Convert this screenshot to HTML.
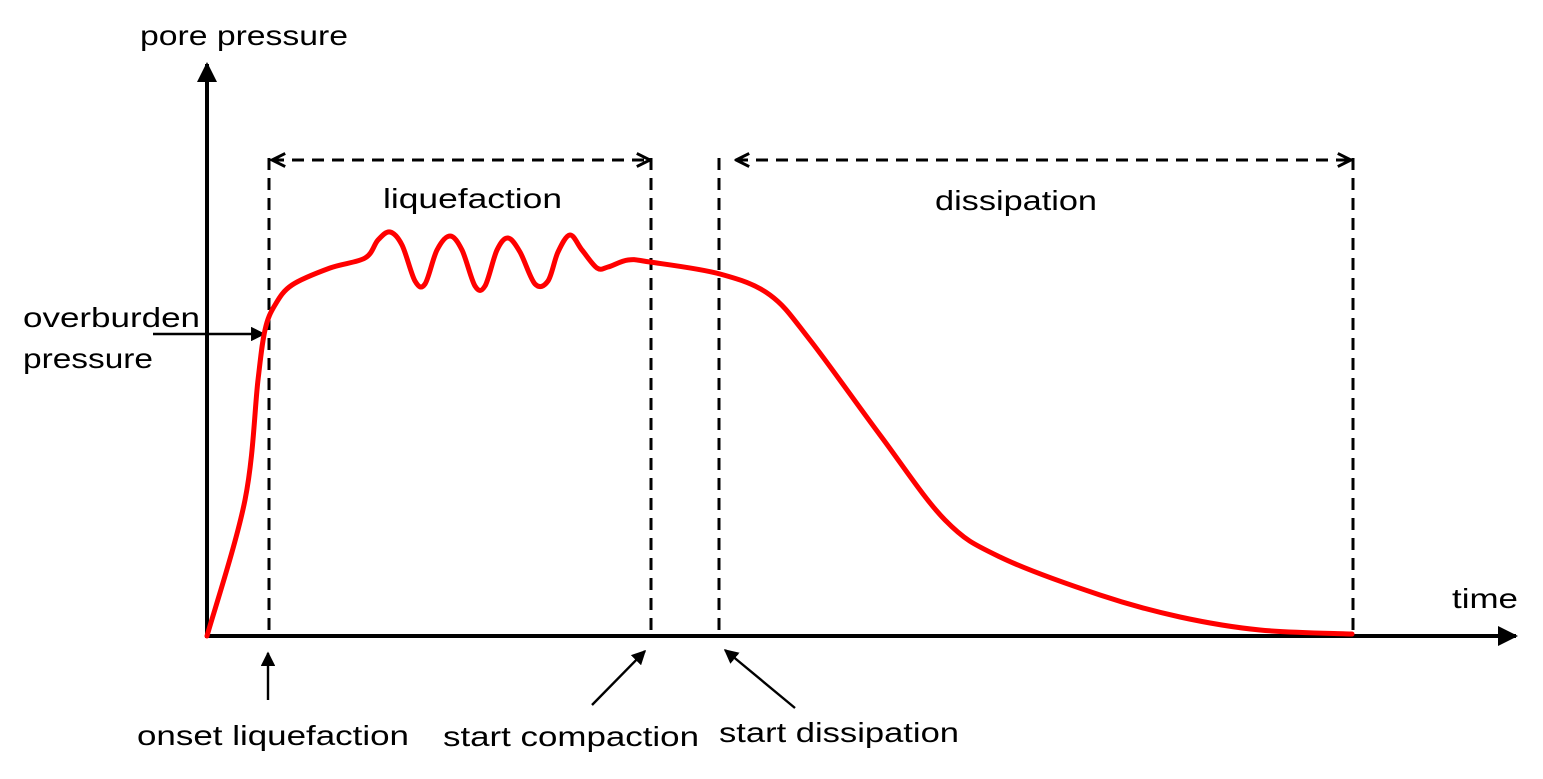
<!DOCTYPE html>
<html><head><meta charset="utf-8"><style>
body{margin:0;background:#fff}
svg{display:block;font-family:"Liberation Sans",sans-serif}
</style></head><body>
<svg width="1543" height="779" viewBox="0 0 1543 779" id="chart">
<defs>
<marker id="ah" viewBox="0 0 10 10" refX="9" refY="5" markerWidth="6" markerHeight="6" orient="auto-start-reverse" markerUnits="strokeWidth"><path d="M0,0 L10,5 L0,10 z" fill="#000"/></marker>
<marker id="ax" viewBox="0 0 10 10" refX="9" refY="5" markerWidth="5" markerHeight="5" orient="auto-start-reverse" markerUnits="strokeWidth"><path d="M0,0 L10,5 L0,10 z" fill="#000"/></marker>
<marker id="oh" viewBox="0 0 10 10" refX="9" refY="5" markerWidth="5.5" markerHeight="5.5" orient="auto-start-reverse" markerUnits="strokeWidth"><path d="M1,1 L9,5 L1,9" fill="none" stroke="#000" stroke-width="1.8"/></marker>
</defs>
<g>
<line x1="207" y1="638" x2="207" y2="64" stroke="#000" stroke-width="4" marker-end="url(#ax)"/>
<line x1="205" y1="636" x2="1516" y2="636" stroke="#000" stroke-width="4" marker-end="url(#ax)"/>
</g>
<g stroke="#000" stroke-width="3" stroke-dasharray="12,8" fill="none">
<line x1="269" y1="158" x2="269" y2="636"/>
<line x1="651" y1="158" x2="651" y2="636"/>
<line x1="719" y1="158" x2="719" y2="636"/>
<line x1="1353" y1="158" x2="1353" y2="636"/>
<line x1="272" y1="160" x2="650" y2="160" marker-start="url(#oh)" marker-end="url(#oh)"/>
<line x1="736" y1="160" x2="1351" y2="160" marker-start="url(#oh)" marker-end="url(#oh)"/>
</g>
<g stroke="#000" stroke-width="2.4">
<line x1="153" y1="334" x2="264" y2="334" marker-end="url(#ah)"/>
<line x1="268" y1="700" x2="268" y2="653" marker-end="url(#ah)"/>
<line x1="592" y1="705" x2="645" y2="651" marker-end="url(#ah)"/>
<line x1="795" y1="708" x2="725" y2="650" marker-end="url(#ah)"/>
</g>
<path id="curve" fill="none" stroke="#f00" stroke-width="5" stroke-linejoin="round" stroke-linecap="round"/>
<g font-size="28" fill="#000">
<text x="140" y="45" textLength="208" lengthAdjust="spacingAndGlyphs">pore pressure</text>
<text x="1452" y="608" textLength="66" lengthAdjust="spacingAndGlyphs">time</text>
<text x="383" y="208" textLength="179" lengthAdjust="spacingAndGlyphs">liquefaction</text>
<text x="935" y="210" textLength="162" lengthAdjust="spacingAndGlyphs">dissipation</text>
<text x="23" y="327" textLength="177" lengthAdjust="spacingAndGlyphs">overburden</text>
<text x="23" y="368" textLength="130" lengthAdjust="spacingAndGlyphs">pressure</text>
<text x="137" y="745" textLength="272" lengthAdjust="spacingAndGlyphs">onset liquefaction</text>
<text x="443" y="746" textLength="256" lengthAdjust="spacingAndGlyphs">start compaction</text>
<text x="719" y="742" textLength="240" lengthAdjust="spacingAndGlyphs">start dissipation</text>
</g>
</svg>
<script>
const times=[0,38,51,58,68,85,123,158,171,183,195,208,218,230,243,255,268,278,290,301,313,328,341,351,363,375,390,401,421,443,513,563,603,673,738,793,893,973,1053,1145];
const pressures=[0,136,256,306,331,351,368,378,396,404,391,355,352,386,400,386,350,350,386,398,384,352,355,384,401,386,368,369,376,374,362,341,296,201,116,79,41,19,6,2];
function xs(t){return 207+t;}
function ys(p){return 636-p;}
const pts=times.map((t,i)=>[xs(t),ys(pressures[i])]);
let d='M'+pts[0][0]+','+pts[0][1];
for(let i=0;i<pts.length-1;i++){
 const p0=pts[Math.max(0,i-1)],p1=pts[i],p2=pts[i+1],p3=pts[Math.min(pts.length-1,i+2)];
 const c1=[p1[0]+(p2[0]-p0[0])/6,p1[1]+(p2[1]-p0[1])/6];
 const c2=[p2[0]-(p3[0]-p1[0])/6,p2[1]-(p3[1]-p1[1])/6];
 d+=' C'+c1[0]+','+c1[1]+' '+c2[0]+','+c2[1]+' '+p2[0]+','+p2[1];
}
document.getElementById('curve').setAttribute('d',d);
</script>
</body></html>
